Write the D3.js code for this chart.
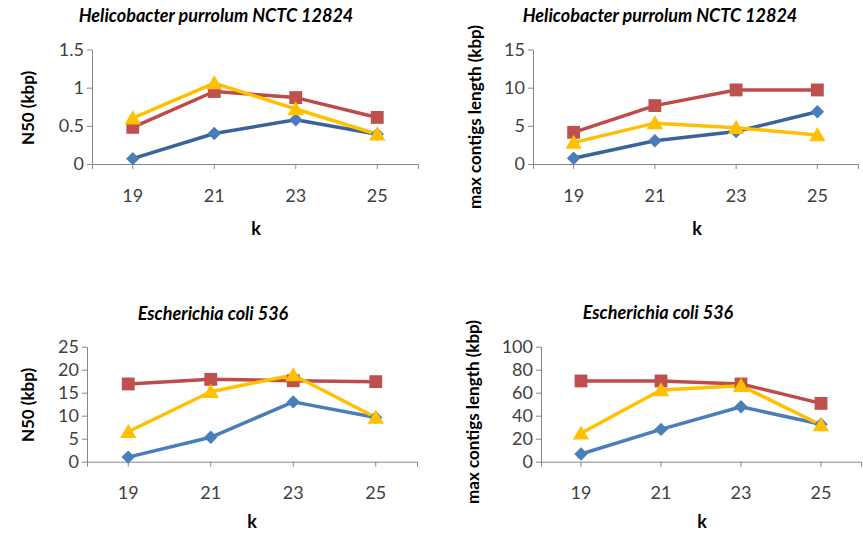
<!DOCTYPE html>
<html>
<head>
<meta charset="utf-8">
<script src="https://cdn.jsdelivr.net/npm/d3@7"></script>
<style>
  body { margin: 0; background: #fff; }
  svg { display: block; font-family: Lato, "Open Sans", sans-serif; }
  .axis path, .axis line { stroke: #868686; }
  .axis text { font-size: 18px; fill: #404040; font-family: Lato, sans-serif; }
</style>
</head>
<body>
<div id="chart"></div>
<script>
const width = 863
const height = 535

// k values (x categories)
const kValues = ["19", "21", "23", "25"]

// Helicobacter purrolum NCTC 12824
const heliN50Blue = [0.07, 0.40, 0.58, 0.39]
const heliN50Red = [0.48, 0.95, 0.87, 0.61]
const heliN50Yellow = [0.60, 1.06, 0.72, 0.39]
const heliMaxBlue = [0.75, 3.05, 4.25, 6.85]
const heliMaxRed = [4.15, 7.65, 9.7, 9.7]
const heliMaxYellow = [2.8, 5.35, 4.75, 3.8]

// Escherichia coli 536
const ecoliN50Blue = [1.0, 5.3, 13.0, 9.6]
const ecoliN50Red = [16.9, 17.9, 17.6, 17.4]
const ecoliN50Yellow = [6.5, 15.2, 18.85, 9.6]
const ecoliMaxBlue = [6.7, 28.1, 47.8, 32.5]
const ecoliMaxRed = [70.2, 70.2, 67.6, 50.7]
const ecoliMaxYellow = [24.7, 62.3, 66.1, 31.9]

// y tick labels
const yTicksHeliN50 = [0, 0.5, 1, 1.5]
const yTicksHeliMax = [0, 5, 10, 15]
const yTicksEcoliN50 = [0, 5, 10, 15, 20, 25]
const yTicksEcoliMax = [0, 20, 40, 60, 80, 100]

const titleHeli = "Helicobacter purrolum NCTC 12824"
const titleEcoli = "Escherichia coli 536"

const panels = [
    { title: titleHeli, yLabel: "N50 (kbp)", ticks: yTicksHeliN50,
      series: [heliN50Blue, heliN50Red, heliN50Yellow], dark: true,
      x0: 92, x1: 418, y0: 164, y1: 49.5, titleX: 216, titleY: 17, labX: 30, labY: 108, kX: 256, kY: 230 },
    { title: titleHeli, yLabel: "max contigs length (kbp)", ticks: yTicksHeliMax,
      series: [heliMaxBlue, heliMaxRed, heliMaxYellow], dark: true,
      x0: 533, x1: 858, y0: 164, y1: 49.5, titleX: 660, titleY: 17, labX: 477, labY: 117, kX: 697, kY: 230 },
    { title: titleEcoli, yLabel: "N50 (kbp)", ticks: yTicksEcoliN50,
      series: [ecoliN50Blue, ecoliN50Red, ecoliN50Yellow], dark: false,
      x0: 87, x1: 417, y0: 461.7, y1: 346.7, titleX: 213, titleY: 315, labX: 30, labY: 405, kX: 252, kY: 523 },
    { title: titleEcoli, yLabel: "max contigs length (kbp)", ticks: yTicksEcoliMax,
      series: [ecoliMaxBlue, ecoliMaxRed, ecoliMaxYellow], dark: false,
      x0: 541, x1: 861, y0: 461.7, y1: 346.7, titleX: 658, titleY: 314, labX: 475, labY: 412, kX: 702, kY: 523 }
]

const svg = d3.select("div#chart").append("svg").attr("width", width).attr("height", height)

const diamond = d3.symbol().type(d3.symbolDiamond2).size(115)
const square = d3.symbol().type(d3.symbolSquare).size(165)
const triangle = d3.symbol().type(d3.symbolTriangle).size(115)

panels.forEach(p => {
    const g = svg.append("g")

    const x = d3.scaleBand().domain(kValues).range([p.x0, p.x1])
    const y = d3.scaleLinear().domain([0, d3.max(p.ticks)]).range([p.y0, p.y1])
    const cx = d => x(d) + x.bandwidth() / 2

    // axes
    g.append("g").attr("class", "axis")
        .attr("transform", `translate(0, ${p.y0})`)
        .call(d3.axisBottom(x).tickSize(5).tickSizeOuter(5).tickPadding(20))
    g.append("g").attr("class", "axis")
        .attr("transform", `translate(${p.x0}, 0)`)
        .call(d3.axisLeft(y).tickValues(p.ticks).tickFormat(d => String(d)).tickSize(5).tickSizeOuter(0).tickPadding(3))

    const blueLine = p.dark ? "#3A6399" : "#4A7EBB"
    const styles = [
        { line: blueLine, fill: "#4A7EBB", shape: diamond },
        { line: "#BE4B48", fill: "#C0504D", shape: square },
        { line: "#FFC000", fill: "#FFC000", shape: triangle }
    ]

    const lineFunc = d3.line().x((d, i) => cx(kValues[i])).y(d => y(d))

    p.series.forEach((vals, s) => {
        g.append("path")
            .attr("d", lineFunc(vals))
            .attr("fill", "none")
            .attr("stroke", styles[s].line)
            .attr("stroke-width", 3.5)
            .attr("stroke-linejoin", "round")
    })
    p.series.forEach((vals, s) => {
        g.selectAll(null).data(vals).enter().append("path")
            .attr("d", styles[s].shape)
            .attr("transform", (d, i) => `translate(${cx(kValues[i])}, ${y(d) + (s == 2 ? 1.5 : 0)})`)
            .attr("fill", styles[s].fill)
    })

    // texts
    g.append("text").attr("x", p.titleX).attr("y", p.titleY)
        .attr("text-anchor", "middle").attr("dominant-baseline", "middle")
        .style("font-size", "18px").style("font-weight", "bold").style("font-style", "italic")
        .attr("fill", "#000").text(p.title)
    g.append("text")
        .attr("transform", `translate(${p.labX}, ${p.labY}) rotate(-90)`)
        .attr("text-anchor", "middle").attr("dominant-baseline", "middle")
        .style("font-size", "17px").style("font-weight", "bold")
        .attr("fill", "#000").text(p.yLabel)
    g.append("text").attr("x", p.kX).attr("y", p.kY)
        .attr("text-anchor", "middle").attr("dominant-baseline", "middle")
        .style("font-size", "18px").style("font-weight", "bold")
        .attr("fill", "#000").text("k")
})
</script>
</body>
</html>
